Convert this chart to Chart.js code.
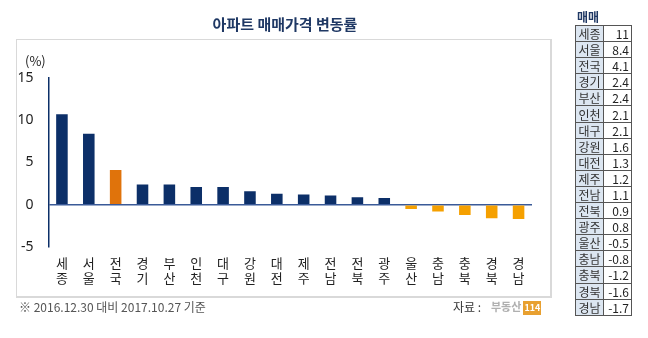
<!DOCTYPE html>
<html><head><meta charset="utf-8">
<script src="https://cdn.jsdelivr.net/npm/chart.js@4"></script>
<style>
html,body{margin:0;padding:0;background:#fff;}
body{width:648px;height:338px;position:relative;overflow:hidden;font-family:"Noto Sans CJK KR","Noto Sans",sans-serif;}
#box{position:absolute;left:16px;top:39px;width:533px;height:256px;border:1px solid #d9d9d9;border-right-width:2px;border-bottom-width:2px;}
#cv{position:absolute;left:0;top:0;}
.abs{position:absolute;white-space:nowrap;}
#title{left:0;width:570px;top:13px;text-align:center;font-size:15px;font-weight:bold;color:#1f3864;}
#pct{left:25px;top:51px;font-size:13px;color:#222;}
#foot{left:19px;top:298px;font-size:12px;color:#555;}
#src{left:453px;top:298px;font-size:12px;color:#333;}
#logo{left:491px;top:298px;font-size:11px;font-weight:bold;color:#b0b0b0;}
#logo span{display:inline-block;background:#e8a030;color:#fff;font-size:9px;padding:1px 1px;margin-left:2px;line-height:12px;}
#tbl{position:absolute;left:575px;top:25px;border-collapse:collapse;font-size:12px;table-layout:fixed;}
#tbl td{border:1px solid #555;height:15px;padding:0 2px;line-height:15px;box-sizing:border-box;}
#tbl td.k{background:#dce6f1;color:#333;width:28px;text-align:center;padding:0;}
#tbl td.v{background:#fff;color:#222;width:28px;text-align:right;}
#th{left:577px;top:8px;font-size:12px;font-weight:bold;color:#1f3864;}
</style></head>
<body>
<div id="box"></div>
<canvas id="cv" width="648" height="338"></canvas>
<div class="abs" id="title">아파트 매매가격 변동률</div>
<div class="abs" id="pct">(%)</div>
<div class="abs" id="foot">※ 2016.12.30 대비 2017.10.27 기준</div>
<div class="abs" id="src">자료 :</div>
<div class="abs" id="logo">부동산<span>114</span></div>
<div class="abs" id="th">매매</div>
<table id="tbl"></table>
<script>
const regions = ["세종","서울","전국","경기","부산","인천","대구","강원","대전","제주","전남","전북","광주","울산","충남","충북","경북","경남"];
const changeRates = [10.7,8.4,4.1,2.4,2.4,2.1,2.1,1.6,1.3,1.2,1.1,0.9,0.8,-0.5,-0.8,-1.2,-1.6,-1.7];
const tableTexts = ["11","8.4","4.1","2.4","2.4","2.1","2.1","1.6","1.3","1.2","1.1","0.9","0.8","-0.5","-0.8","-1.2","-1.6","-1.7"];
const yTicks = [15,10,5,0,-5];

const NAVY = "#0c2f68", ORANGE_DARK = "#e0730b", ORANGE = "#f5a000";
const colors = changeRates.map((v,i)=> regions[i]==="전국" ? ORANGE_DARK : (v<0 ? ORANGE : NAVY));

const tbl = document.getElementById('tbl');
regions.forEach((r,i)=>{
  const tr = document.createElement('tr');
  tr.innerHTML = '<td class="k">'+r+'</td><td class="v">'+tableTexts[i]+'</td>';
  tbl.appendChild(tr);
});
tbl.querySelectorAll('tr').forEach(tr=>{tr.style.height='16.1px';});

new Chart(document.getElementById('cv'), {
  type:'bar',
  data:{
    labels: regions.map(r=>r.split('')),
    datasets:[{data:changeRates, backgroundColor:colors, barPercentage:0.86, categoryPercentage:0.5}]
  },
  options:{
    responsive:false, animation:false,
    layout:{padding:{left:0,top:78,right:116,bottom:0}},
    plugins:{legend:{display:false},tooltip:{enabled:false}},
    scales:{
      x:{
        grid:{display:false}, border:{display:false},
        ticks:{maxRotation:0, autoSkip:false, padding:1, color:'#222', font:{family:'"Noto Sans CJK KR"',size:13,lineHeight:1.12}},
        afterFit:(s)=>{s.height=91;}
      },
      y:{
        min:-5,max:15,
        afterBuildTicks:(s)=>{s.ticks=yTicks.map(v=>({value:v}));},
        border:{display:true,color:NAVY,width:1.5},
        grid:{drawTicks:false, lineWidth:1.5, color:(c)=> c.tick && c.tick.value===0 ? '#3a5a98' : 'rgba(0,0,0,0)'},
        ticks:{padding:15,color:'#222',font:{family:'"Noto Sans","DejaVu Sans"',size:14}},
        afterFit:(s)=>{s.width=48.5;}
      }
    }
  }
});
</script>
</body></html>
